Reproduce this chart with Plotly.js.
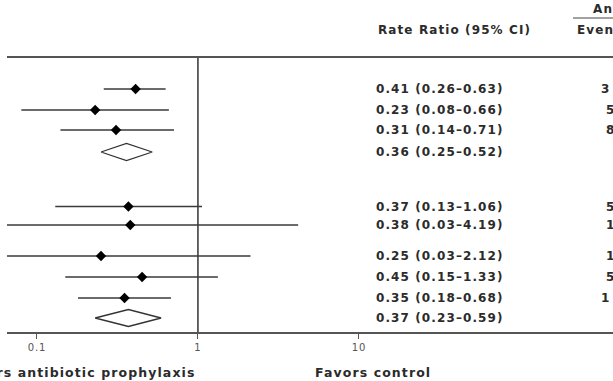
<!DOCTYPE html>
<html>
<head>
<meta charset="utf-8">
<script src="https://cdn.plot.ly/plotly-3.0.1.min.js"></script>
<style>
  html, body { margin: 0; padding: 0; background: #fff; }
  .annotation-text { letter-spacing: 1.1px; }
  .xtick text { letter-spacing: 0.8px; }
</style>
</head>
<body>
<div id="chart" style="width:613px;height:381px;"></div>
<script>
// ---- data ----
const rateRatio = [0.41, 0.23, 0.31, 0.36, 0.37, 0.38, 0.25, 0.45, 0.35, 0.37];
const ciLow     = [0.26, 0.08, 0.14, 0.25, 0.13, 0.03, 0.03, 0.15, 0.18, 0.23];
const ciHigh    = [0.63, 0.66, 0.71, 0.52, 1.06, 4.19, 2.12, 1.33, 0.68, 0.59];
const isPooled  = [false, false, false, true, false, false, false, false, false, true];
const ciLabels  = ['0.41 (0.26\u20130.63)', '0.23 (0.08\u20130.66)', '0.31 (0.14\u20130.71)', '0.36 (0.25\u20130.52)',
                   '0.37 (0.13\u20131.06)', '0.38 (0.03\u20134.19)', '0.25 (0.03\u20132.12)', '0.45 (0.15\u20131.33)',
                   '0.35 (0.18\u20130.68)', '0.37 (0.23\u20130.59)'];
const eventsText = ['3', '5', '8', '', '5', '1', '1', '5', '1', ''];
const tickVals  = [0.1, 1, 10];
const tickText  = ['0.1', '1', '10'];

// ---- layout helpers (positions only) ----
const rowPos = [32, 53, 73, 95, 149.5, 168, 199, 220, 241, 261]; // y units, top = 0
const eventsShift = [0, 1, 1, 0, 1, 1, 1, 1, 0, 0];
const W = 613, H = 381, ML = 7, MT = 57, MB = 49;
const plotW = W - ML, plotH = H - MT - MB;
const px2paper = px => (px - ML) / plotW;
const py2paper = py => (H - MB - py) / plotH;
const txtFont = {family: 'DejaVu Sans', size: 12, color: '#2b2b2b', weight: 700};
const footFont = {family: 'DejaVu Sans', size: 12.5, color: '#2b2b2b', weight: 700};

const traces = [];

// reference line at rate ratio 1
traces.push({
  x: [1, 1], y: [0, plotH], mode: 'lines', type: 'scatter',
  line: {color: '#333', width: 1.5}, hoverinfo: 'skip'
});

// individual estimates with CIs
const idx = rateRatio.map((v, i) => i).filter(i => !isPooled[i]);
traces.push({
  type: 'scatter', mode: 'markers',
  x: idx.map(i => rateRatio[i]),
  y: idx.map(i => rowPos[i]),
  marker: {symbol: 'diamond', size: 8, color: '#000'},
  error_x: {
    type: 'data', symmetric: false,
    array: idx.map(i => ciHigh[i] - rateRatio[i]),
    arrayminus: idx.map(i => rateRatio[i] - ciLow[i]),
    width: 0, thickness: 1.4, color: '#3a3a3a'
  }
});

// pooled diamonds
rateRatio.forEach((v, i) => {
  if (!isPooled[i]) return;
  const r = rowPos[i], h = 8.5;
  traces.push({
    type: 'scatter', mode: 'lines',
    x: [ciLow[i], v, ciHigh[i], v, ciLow[i]],
    y: [r, r - h, r, r + h, r],
    line: {color: '#333', width: 1.3}
  });
});

const annotations = [];
rateRatio.forEach((v, i) => {
  annotations.push({
    xref: 'paper', yref: 'y', x: px2paper(374), y: rowPos[i],
    xanchor: 'left', yanchor: 'middle', showarrow: false,
    text: ciLabels[i], font: txtFont
  });
  if (eventsText[i]) {
    annotations.push({
      xref: 'paper', yref: 'y', x: px2paper(eventsShift[i] ? 604 : 599), y: rowPos[i],
      xanchor: 'left', yanchor: 'middle', showarrow: false,
      text: eventsText[i], font: txtFont
    });
  }
});
annotations.push({xref: 'paper', yref: 'paper', x: px2paper(376), y: py2paper(30),
  xanchor: 'left', yanchor: 'middle', showarrow: false, text: 'Rate Ratio (95% CI)', font: txtFont});
annotations.push({xref: 'paper', yref: 'paper', x: px2paper(575), y: py2paper(30),
  xanchor: 'left', yanchor: 'middle', showarrow: false, text: 'Events', font: txtFont});
annotations.push({xref: 'paper', yref: 'paper', x: px2paper(591), y: py2paper(9),
  xanchor: 'left', yanchor: 'middle', showarrow: false, text: 'Antibiotic', font: txtFont});
annotations.push({xref: 'paper', yref: 'paper', x: px2paper(197), y: py2paper(372),
  xanchor: 'right', yanchor: 'middle', showarrow: false, text: 'Favors antibiotic prophylaxis', font: footFont});
annotations.push({xref: 'paper', yref: 'paper', x: px2paper(313), y: py2paper(372),
  xanchor: 'left', yanchor: 'middle', showarrow: false, text: 'Favors control', font: footFont});

const layout = {
  width: W, height: H,
  margin: {l: ML, r: 0, t: MT, b: MB, pad: 0},
  paper_bgcolor: '#fff', plot_bgcolor: '#fff',
  showlegend: false,
  xaxis: {
    type: 'log', range: [Math.log10(0.0652), Math.log10(378)],
    tickvals: tickVals, ticktext: tickText,
    ticks: 'outside', ticklen: 5, tickwidth: 1, tickcolor: '#555',
    showline: true, linecolor: '#555', linewidth: 2, mirror: false,
    showgrid: false, zeroline: false,
    tickfont: {family: 'DejaVu Sans', size: 10, color: '#555'}
  },
  yaxis: {range: [plotH, 0], visible: false, showgrid: false, zeroline: false},
  shapes: [
    {type: 'line', xref: 'paper', yref: 'paper', x0: 0, x1: 1, y0: 1, y1: 1,
     line: {color: '#555', width: 2}},
    {type: 'line', xref: 'paper', yref: 'paper', x0: px2paper(573), x1: 1.01,
     y0: py2paper(18), y1: py2paper(18), line: {color: '#444', width: 1}}
  ],
  annotations: annotations
};

Plotly.newPlot('chart', traces, layout, {staticPlot: true, displayModeBar: false});
</script>
</body>
</html>
